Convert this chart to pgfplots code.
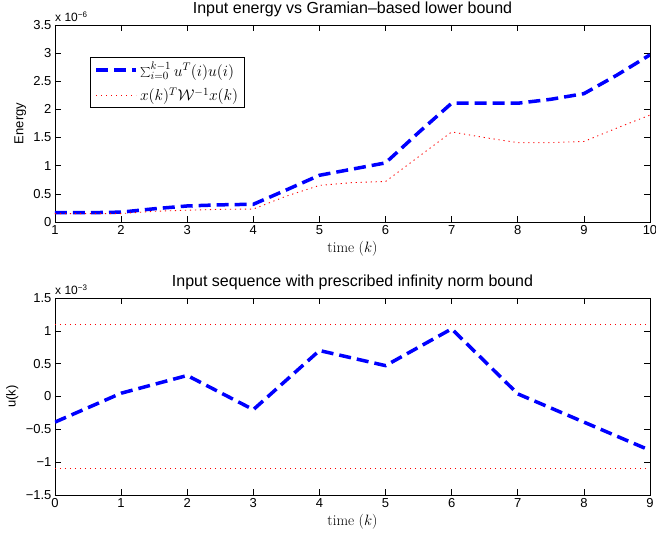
\RequirePackage{fix-cm}
\documentclass[border=0pt]{standalone}
\usepackage{pgfplots}
\pgfplotsset{compat=1.18}
\usepackage{fontspec}
\newfontfamily\arial{Liberation Sans}

\pgfplotsset{
  matfig/.style={
    scale only axis, width=595pt, height=197pt,
    anchor=north west,
    clip mode=individual,
    font=\arial\fontsize{13}{15}\selectfont,
    tick label style={font=\arial\fontsize{13}{15}\selectfont},
    /pgf/number format/assume math mode=true,
    tick align=inside, major tick length=6pt,
    axis line style={line width=0.8pt},
    every tick/.style={black, line width=0.6pt},
    title style={font=\arial\fontsize{16}{18}\selectfont, yshift=-1pt},
    xlabel style={font=\rmfamily\fontsize{15}{17}\selectfont},
    scaled ticks=false,
  },
  ublue/.style={blue, line width=3.5pt, dash pattern=on 12pt off 6pt},
  rdot/.style={red, line width=0.9pt, dash pattern=on 1.2pt off 3.8pt},
}

\begin{document}
\begin{tikzpicture}
\begin{axis}[matfig, at={(0,0)},
    xmin=1, xmax=10, ymin=0, ymax=3.5,
    xtick={1,2,3,4,5,6,7,8,9,10},
    ytick={0,0.5,1,1.5,2,2.5,3,3.5},
    yticklabels={0,0.5,1,1.5,2,2.5,3,3.5},
    title={Input energy vs Gramian–based lower bound},
    xlabel={time ($k$)},
    ylabel={Energy},
    ylabel style={at={(axis description cs:-0.053,0.5)}, anchor=base, rotate=0},
    legend style={at={(axis description cs:0.059,0.838)}, anchor=north west,
      draw=black, line width=0.8pt, font=\rmfamily\fontsize{15.7}{18}\selectfont,
      inner xsep=4pt, inner ysep=3pt, row sep=6pt},
    legend cell align=left,
    legend image code/.code={\draw[#1] (0pt,0pt) -- (40pt,0pt);},
]
\addplot[ublue] coordinates {
  (1,0.165)(1.5,0.165)(2,0.175)(2.5,0.235)(3,0.285)(3.5,0.305)(4,0.315)
  (4.5,0.57)(5,0.83)(5.5,0.94)(6,1.05)(6.5,1.59)(7,2.11)(7.5,2.11)(8,2.11)
  (8.5,2.18)(9,2.28)(9.5,2.61)(10,2.97)
};
\addplot[rdot] coordinates {
  (1,0.15)(1.5,0.15)(2,0.15)(2.5,0.19)(3,0.21)(3.5,0.225)(4,0.23)
  (4.5,0.46)(5,0.65)(5.5,0.70)(6,0.72)(6.5,1.16)(7,1.60)(7.5,1.50)(8,1.41)
  (8.5,1.41)(9,1.43)(9.5,1.67)(10,1.90)
};
\legend{$\sum_{i=0}^{k-1} u^T(i)u(i)$, $x(k)^T\mathcal{W}^{-1}x(k)$\hspace{8pt}}
\node[anchor=south west, inner sep=0pt, font=\arial\fontsize{12}{14}\selectfont]
  at (rel axis cs:0,1) [yshift=3pt] {x 10\textsuperscript{−6}};
\end{axis}

\begin{axis}[matfig, at={(0,-273pt)},
    xmin=0, xmax=9, ymin=-1.5, ymax=1.5,
    xtick={0,1,2,3,4,5,6,7,8,9},
    ytick={-1.5,-1,-0.5,0,0.5,1,1.5},
    yticklabels={−1.5,−1,−0.5,0,0.5,1,1.5},
    title={Input sequence with prescribed infinity norm bound},
    xlabel={time ($k$)},
    ylabel={u(k)},
    ylabel style={at={(axis description cs:-0.066,0.5)}, anchor=base, rotate=0},
]
\addplot[ublue] coordinates {
  (0,-0.39)(1,0.05)(2,0.32)(3,-0.20)(4,0.70)(5,0.47)(6,1.03)(7,0.04)(8,-0.39)(9,-0.82)
};
\addplot[rdot] coordinates {(0,1.1)(9,1.1)};
\addplot[rdot] coordinates {(0,-1.1)(9,-1.1)};
\node[anchor=south west, inner sep=0pt, font=\arial\fontsize{12}{14}\selectfont]
  at (rel axis cs:0,1) [yshift=3pt] {x 10\textsuperscript{−3}};
\end{axis}
\pgfresetboundingbox
\useasboundingbox (-55pt,25pt) rectangle (601pt,-512pt);
\end{tikzpicture}
\end{document}
